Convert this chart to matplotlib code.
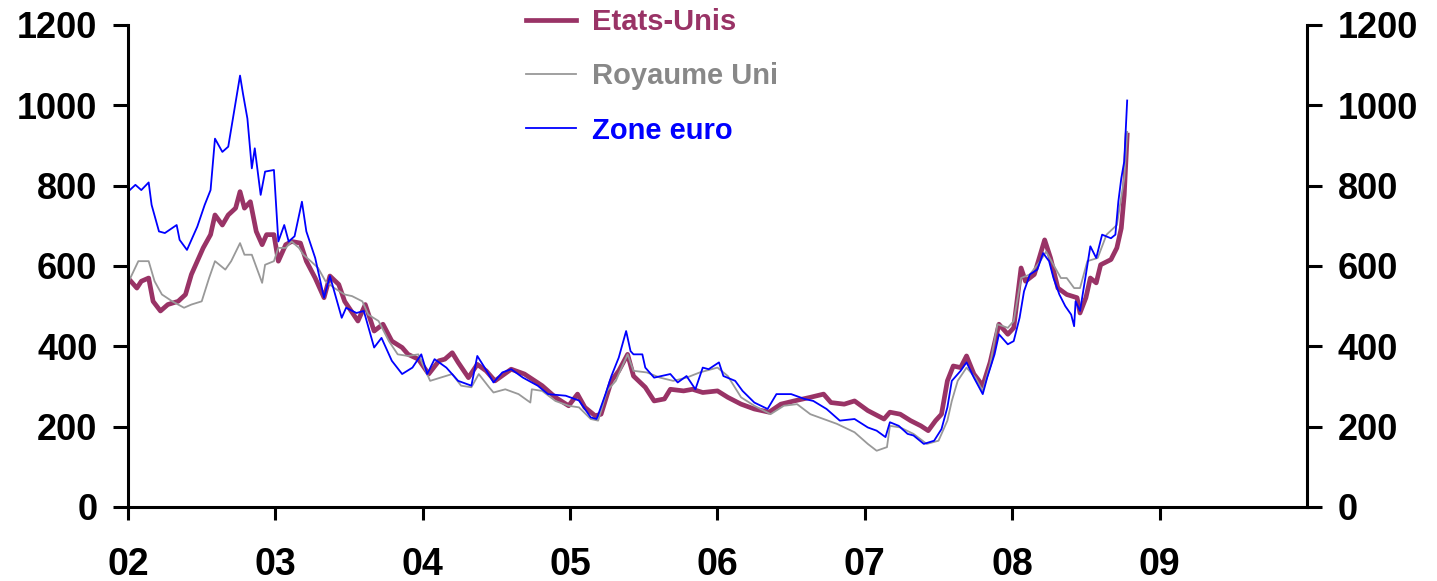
import matplotlib
matplotlib.use("Agg")
import matplotlib.pyplot as plt

plt.rcParams['font.family'] = ['Liberation Sans', 'DejaVu Sans']
plt.rcParams['font.weight'] = 'bold'

# Etats-Unis
us_t = [2002.00, 2002.06, 2002.09, 2002.14, 2002.17, 2002.22, 2002.27, 2002.34, 2002.39,
        2002.43, 2002.47, 2002.51, 2002.56, 2002.59, 2002.64, 2002.68, 2002.73, 2002.76,
        2002.79, 2002.83, 2002.87, 2002.91, 2002.94, 2002.99, 2003.02, 2003.07, 2003.11,
        2003.17, 2003.21, 2003.27, 2003.33, 2003.37, 2003.43, 2003.47, 2003.56, 2003.61,
        2003.67, 2003.73, 2003.79, 2003.86, 2003.90, 2003.97, 2004.04, 2004.11, 2004.15,
        2004.20, 2004.24, 2004.31, 2004.37, 2004.43, 2004.49, 2004.60, 2004.69, 2004.81,
        2004.90, 2004.99, 2005.05, 2005.10, 2005.17, 2005.21, 2005.28, 2005.33,
        2005.39, 2005.43, 2005.51, 2005.57, 2005.64, 2005.68, 2005.77, 2005.83, 2005.90,
        2006.00, 2006.07, 2006.16, 2006.25, 2006.35, 2006.43, 2006.52, 2006.63, 2006.72,
        2006.77, 2006.86, 2006.93, 2007.02, 2007.13, 2007.17, 2007.24, 2007.31, 2007.38,
        2007.43, 2007.48, 2007.52, 2007.56, 2007.60, 2007.65, 2007.69, 2007.74, 2007.80,
        2007.85, 2007.91, 2007.97, 2008.01, 2008.06, 2008.09, 2008.15, 2008.19, 2008.22,
        2008.26, 2008.31, 2008.37, 2008.44, 2008.46, 2008.50, 2008.53, 2008.57, 2008.60,
        2008.67, 2008.71, 2008.74, 2008.76, 2008.78]
us_v = [570, 545, 562, 570, 512, 488, 504, 512, 529,
        579, 612, 645, 678, 727, 702, 727, 744, 785,
        744, 760, 686, 653, 678, 678, 612, 653, 661,
        657, 612, 570, 521, 575, 554, 512, 463, 504,
        438, 455, 413, 397, 380, 368, 331, 364, 368,
        384, 360, 322, 355, 339, 314, 343, 331, 302,
        273, 252, 281, 248, 227, 231, 314, 339,
        380, 326, 298, 264, 269, 293, 289, 293, 285,
        289, 273, 256, 244, 236, 256, 264, 273, 281,
        260, 256, 264, 240, 219, 236, 231, 215, 202,
        190, 215, 231, 314, 351, 347, 376, 331, 302,
        360, 455, 430, 446, 595, 562, 579, 628, 665,
        620, 545, 529, 521, 483, 521, 570, 558, 603,
        616, 645, 694, 777, 926]

# Royaume Uni
uk_t = [2002.00, 2002.07, 2002.14, 2002.18, 2002.23, 2002.30, 2002.38, 2002.43, 2002.50,
        2002.55, 2002.59, 2002.66, 2002.70, 2002.76, 2002.79, 2002.84, 2002.91, 2002.93,
        2002.99, 2003.02, 2003.07, 2003.11, 2003.16, 2003.19, 2003.24, 2003.29, 2003.34,
        2003.40, 2003.47, 2003.52, 2003.59, 2003.63, 2003.70, 2003.77, 2003.83, 2003.90,
        2003.97, 2004.05, 2004.12, 2004.20, 2004.26, 2004.33, 2004.38, 2004.45, 2004.48,
        2004.56, 2004.65, 2004.73, 2004.74, 2004.81, 2004.90, 2004.99, 2005.06, 2005.14,
        2005.19, 2005.25, 2005.31, 2005.33,
        2005.39, 2005.43, 2005.52, 2005.61, 2005.70, 2005.79, 2005.88, 2006.00, 2006.07,
        2006.16, 2006.25, 2006.36, 2006.45, 2006.54, 2006.63, 2006.72, 2006.81, 2006.93,
        2007.02, 2007.08, 2007.15, 2007.17, 2007.24, 2007.33, 2007.42, 2007.50, 2007.56,
        2007.59, 2007.63, 2007.69, 2007.75, 2007.80, 2007.85, 2007.90, 2007.97, 2008.01,
        2008.06, 2008.12, 2008.19, 2008.23, 2008.28, 2008.33, 2008.37, 2008.42, 2008.46,
        2008.51, 2008.58, 2008.64, 2008.71, 2008.76, 2008.78]
uk_v = [558, 612, 612, 562, 529, 512, 496, 504, 512,
        570, 612, 591, 612, 657, 628, 628, 558, 603,
        612, 645, 645, 661, 645, 628, 612, 595, 562,
        545, 529, 525, 512, 479, 463, 413, 380, 376,
        380, 314, 322, 331, 302, 298, 331, 298, 285,
        293, 281, 260, 293, 289, 264, 252, 248, 219,
        215, 289, 314, 331,
        380, 339, 335, 322, 314, 322, 335, 347, 326,
        273, 252, 231, 252, 256, 231, 219, 207, 186,
        157, 140, 149, 202, 198, 182, 157, 165, 215,
        264, 314, 347, 322, 289, 355, 455, 446, 463,
        570, 579, 612, 636, 603, 570, 570, 545, 545,
        612, 620, 678, 702, 818, 934]

# Zone euro
ez_t = [2002.00, 2002.05, 2002.09, 2002.14, 2002.16, 2002.21, 2002.25, 2002.33, 2002.35,
        2002.40, 2002.47, 2002.52, 2002.56, 2002.59, 2002.64, 2002.68, 2002.73, 2002.76,
        2002.78, 2002.81, 2002.84, 2002.86, 2002.90, 2002.93, 2002.99, 2003.02, 2003.06,
        2003.09, 2003.13, 2003.18, 2003.21, 2003.27, 2003.33, 2003.37, 2003.45, 2003.48,
        2003.55, 2003.60, 2003.67, 2003.72, 2003.79, 2003.86, 2003.93, 2003.99, 2004.03,
        2004.08, 2004.16, 2004.24, 2004.33, 2004.37, 2004.42, 2004.48, 2004.54, 2004.60,
        2004.68, 2004.78, 2004.85, 2004.97, 2005.06, 2005.14, 2005.18, 2005.24, 2005.28,
        2005.33,
        2005.38, 2005.41, 2005.43, 2005.49, 2005.51, 2005.57, 2005.68, 2005.73, 2005.79,
        2005.85, 2005.90, 2005.94, 2006.01, 2006.04, 2006.12, 2006.17, 2006.25, 2006.34,
        2006.40, 2006.50, 2006.59, 2006.65, 2006.74, 2006.83, 2006.93, 2007.02, 2007.08,
        2007.14, 2007.17, 2007.23, 2007.29, 2007.33, 2007.40, 2007.47, 2007.52, 2007.56,
        2007.59, 2007.65, 2007.69, 2007.74, 2007.80, 2007.83, 2007.88, 2007.91, 2007.97,
        2008.01, 2008.05, 2008.08, 2008.12, 2008.17, 2008.21, 2008.25, 2008.28, 2008.32,
        2008.36, 2008.40, 2008.42, 2008.43, 2008.46, 2008.50, 2008.53, 2008.57, 2008.61,
        2008.67, 2008.70, 2008.72, 2008.74, 2008.76, 2008.78]
ez_v = [785, 802, 789, 808, 752, 686, 682, 702, 665,
        640, 698, 752, 789, 917, 884, 897, 1008, 1074,
        1029, 967, 843, 893, 777, 835, 839, 661, 702,
        661, 674, 760, 686, 620, 521, 575, 471, 496,
        483, 488, 397, 421, 364, 331, 347, 380, 331,
        368, 347, 314, 302, 376, 347, 310, 335, 343,
        322, 302, 281, 277, 265, 223, 219, 281, 326,
        372,
        438, 388, 380, 380, 347, 322, 331, 310, 326,
        293, 347, 343, 360, 326, 314, 289, 260, 244,
        281, 281, 269, 264, 244, 215, 219, 198, 190,
        174, 211, 202, 182, 178, 157, 165, 194, 248,
        314, 339, 360, 322, 281, 322, 380, 430, 405,
        413, 471, 537, 579, 591, 632, 612, 570, 529,
        500, 479, 450, 512, 488, 579, 649, 620, 678,
        669, 678, 760, 818, 860, 1012]

years = [2002, 2003, 2004, 2005, 2006, 2007, 2008, 2009]
year_labels = ['02', '03', '04', '05', '06', '07', '08', '09']
y_ticks = [0, 200, 400, 600, 800, 1000, 1200]

fig = plt.figure(figsize=(14.37, 5.81), dpi=100)
ax = fig.add_axes([0.0891, 0.1274, 0.8204, 0.8296])

ax.plot(us_t, us_v, color='#993366', lw=3.4, label='Etats-Unis')
ax.plot(uk_t, uk_v, color='#999999', lw=1.3, label='Royaume Uni')
ax.plot(ez_t, ez_v, color='#0000ff', lw=1.3, label='Zone euro')

ax.set_xlim(2002, 2010)
ax.set_ylim(0, 1200)
ax.set_xticks(years)
ax.set_xticklabels(year_labels)
ax.set_yticks(y_ticks)

ax.spines['top'].set_visible(False)
for s in ['left', 'right', 'bottom']:
    ax.spines[s].set_linewidth(2.2)

ax.tick_params(axis='y', which='both', left=True, right=True, labelleft=True,
               labelright=True, direction='out', length=11, width=2.2,
               labelsize=26, pad=11)
ax.tick_params(axis='x', direction='out', length=9, width=2.2, labelsize=27, pad=20)
for lab in ax.get_xticklabels() + ax.get_yticklabels():
    lab.set_fontweight('bold')
for t in ax.yaxis.get_major_ticks():
    t.label2.set_fontweight('bold')

leg = ax.legend(loc='upper left', bbox_to_anchor=(0.366, 0.986),
                bbox_transform=fig.transFigure, frameon=False,
                borderaxespad=0, borderpad=0, fontsize=21,
                handlelength=1.72, handletextpad=0.55, labelspacing=0.9)
text_colors = ['#993366', '#888888', '#0000ff']
for txt, c in zip(leg.get_texts(), text_colors):
    txt.set_color(c)
    txt.set_fontweight('bold')

fig.savefig('out.png', dpi=100)
